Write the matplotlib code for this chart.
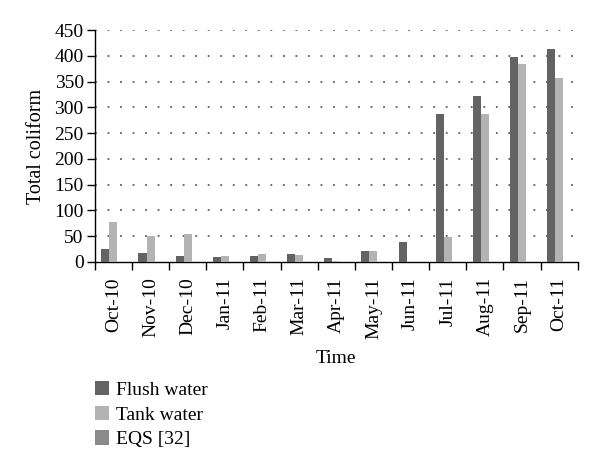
import numpy as np
import matplotlib.pyplot as plt
from matplotlib.patches import Patch

plt.rcParams['font.family'] = ['Liberation Serif', 'DejaVu Serif']

meses = ["Oct-10", "Nov-10", "Dec-10", "Jan-11", "Feb-11", "Mar-11", "Apr-11",
         "May-11", "Jun-11", "Jul-11", "Aug-11", "Sep-11", "Oct-11"]
flush_water = [25, 18, 11, 9, 11, 15, 8, 21, 38, 288, 323, 398, 413]
tank_water = [77, 51, 54, 12, 15, 13, 1, 21, 0, 48, 287, 385, 358]
eqs = [0, 0, 0, 0, 0, 0, 0, 0, 0, 0, 0, 0, 0]

colores = ["#636363", "#b3b3b3", "#8a8a8a"]
nombres = ["Flush water", "Tank water", "EQS [32]"]

fig = plt.figure(figsize=(6, 4.72), dpi=100)
ax = fig.add_axes([0.158, 0.445, 0.805, 0.491])

x = np.arange(len(meses))
w = 0.216
for k, serie in enumerate([flush_water, tank_water, eqs]):
    ax.bar(x + (k - 1) * w, serie, width=w, color=colores[k], zorder=3)

ax.set_xlim(-0.5, len(meses) - 0.5)
ax.set_ylim(0, 450)
ax.set_yticks(np.arange(0, 451, 50))

# lineas de rejilla punteadas (sin la de cero)
for yv in np.arange(50, 451, 50):
    ax.axhline(yv, color="#444444", lw=1.1, linestyle=(0, (1.2, 7)), zorder=1)

ax.set_xticks(x)
ax.set_xticklabels(meses, rotation=90, fontsize=14)
ax.tick_params(axis="x", which="major", length=0, pad=11)
ax.set_xticks(np.arange(-0.5, len(meses), 1), minor=True)
ax.tick_params(axis="x", which="minor", length=6, width=1, direction="out")
ax.tick_params(axis="y", length=6, width=1, labelsize=14, pad=2)

for s in ["top", "right"]:
    ax.spines[s].set_visible(False)
ax.spines["left"].set_linewidth(1)
ax.spines["bottom"].set_linewidth(1)

ax.set_ylabel("Total coliform", fontsize=14.5, labelpad=6)
ax.set_xlabel("Time", fontsize=14, labelpad=8)

handles = [Patch(facecolor=c) for c in colores]
fig.legend(handles, nombres, loc="upper left", bbox_to_anchor=(0.158, 0.193),
           frameon=False, fontsize=14, handlelength=0.75, handleheight=0.75,
           handletextpad=0.35, labelspacing=0.35, borderaxespad=0,
           borderpad=0)

plt.savefig("out.png", dpi=100)
